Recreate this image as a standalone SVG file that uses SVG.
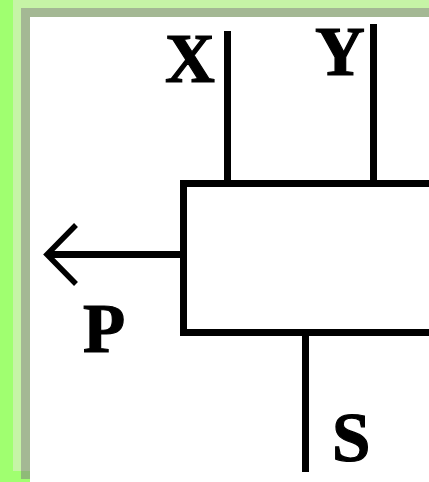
<svg xmlns="http://www.w3.org/2000/svg" width="429" height="482" viewBox="0 0 429 482">
<style>
.w{fill:none;stroke:#000;stroke-width:7}
.h{fill:none;stroke:#000;stroke-width:5.500}
.l{font-family:"Liberation Serif","Times New Roman",serif;font-weight:bold;font-size:69px;fill:#000;stroke:#000;stroke-width:1.200}
</style>
<g id="background" shape-rendering="crispEdges">
<rect width="429" height="482" fill="#a0ff70"/>
<rect x="13" y="0" width="416" height="471" fill="#c6f4a6"/>
<rect x="21" y="8" width="408" height="463" fill="#a4b894"/>
<rect x="21" y="471" width="9" height="8" fill="#8fbb78"/>
<rect x="30" y="17" width="399" height="465" fill="#fff"/>
</g>
<g id="connectors">
<path class="w" shape-rendering="crispEdges" d="M227.500 31V183M373.500 24V183M305.500 333V472M184 254.500H47"/>
<path class="h" d="M76 225L47 254.500L76 284"/>
</g>
<g id="box">
<path class="w" shape-rendering="crispEdges" d="M429 183.500H183.500V332.500H429"/>
</g>
<g id="label-x"><text class="l" x="165" y="81.500">X</text></g>
<g id="label-y"><text class="l" x="315" y="74.500">Y</text></g>
<g id="label-p"><text class="l" x="83" y="352">P</text></g>
<g id="label-s"><text class="l" x="332" y="461">S</text></g>
</svg>
